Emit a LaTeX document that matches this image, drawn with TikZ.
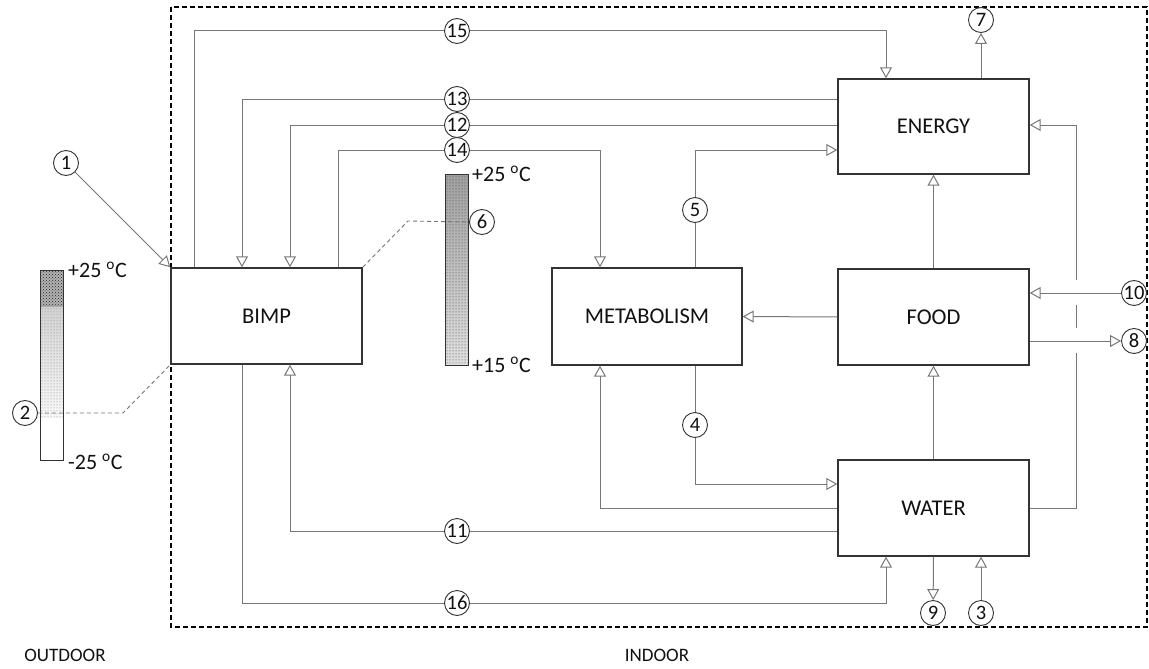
\documentclass[tikz,border=0pt]{standalone}
\usepackage{fontspec}
\setmainfont{Carlito}
\usetikzlibrary{arrows.meta,patterns}
\definecolor{lncol}{HTML}{777777}
\definecolor{boxcol}{HTML}{333333}
\definecolor{txtcol}{HTML}{111111}
\begin{document}
\begin{tikzpicture}[x=1pt,y=-1pt,
  blk/.style={draw=boxcol,line width=1.4pt,rectangle,inner sep=0pt,minimum width=191pt,minimum height=96pt,font=\fontsize{22.5}{26}\selectfont,text=txtcol},
  conn/.style={draw=lncol,line width=1pt},
  arr/.style={conn,-{Triangle[open,length=11pt,width=12pt,line width=1pt]}},
  num/.style={circle,draw=boxcol,line width=0.9pt,fill=white,minimum size=25pt,inner sep=0pt,font=\fontsize{20.5}{22}\selectfont,text=txtcol},
  tlab/.style={anchor=west,inner sep=0pt,font=\fontsize{22}{24}\selectfont,text=txtcol},
  dline/.style={draw=lncol,line width=0.9pt,dash pattern=on 4pt off 3pt}
]
\useasboundingbox (0,0) rectangle (1149,669);
% indoor boundary
\draw[line width=1.8pt,dash pattern=on 5pt off 3pt] (171,7) rectangle (1147,627);
% boxes
\node[blk] (bimp) at (266.5,316) {BIMP};
\node[blk,minimum width=190pt,minimum height=97pt] (meta) at (647,316.5) {METABOLISM};
\node[blk] (food) at (933.5,317) {FOOD};
\node[blk,minimum height=95pt] (energy) at (933.5,126.5) {ENERGY};
\node[blk] (water) at (933.5,508) {WATER};
% thermometers
\fill[gray!60] (40,270) rectangle (63,307);
\fill[pattern=crosshatch dots,pattern color=gray!30!black] (40,270) rectangle (63,307);
\shade[top color=gray!35,bottom color=gray!5] (40,307) rectangle (63,417);
\fill[pattern=dots,pattern color=gray] (40,307) rectangle (63,417);
\draw[boxcol,line width=1pt] (40,270) rectangle (63,460);
\shade[top color=gray!75,bottom color=gray!25] (445,174) rectangle (468,365);
\fill[pattern=dots,pattern color=gray!50!black] (445,174) rectangle (468,365);
\draw[boxcol,line width=1pt] (445,174) rectangle (468,365);
\node[tlab] (t1) at (68,270) {+25 \textsuperscript{o}C};
\node[tlab] (t2) at (68,462) {-25 \textsuperscript{o}C};
\node[tlab] (t3) at (472,174) {+25 \textsuperscript{o}C};
\node[tlab] (t4) at (472,365) {+15 \textsuperscript{o}C};
% end-point circles
\node[num] (c1) at (66,163) {1};
\node[num] (c2) at (25,413) {2};
\node[num] (c3) at (981,613) {3};
\node[num] (c6) at (482,222) {6};
\node[num] (c7) at (981,20) {7};
\node[num] (c8) at (1134,341) {8};
\node[num] (c9) at (933,613) {9};
\node[num] (c10) at (1134,293) {10};
% connectors
\draw[arr] (c1) -- (bimp.north west);
\draw[dline] (c2.east) -- (123,413) -- (bimp.south west);
\draw[dline] (bimp.north east) -- (408,221) -- (c6.west);
\draw[arr] (bimp.north -| 194,0) -- (194,31) -- (886,31) -- (energy.north -| 886,0);
\draw[arr] (energy.west |- 0,99) -- (242,99) -- (bimp.north -| 242,0);
\draw[arr] (energy.west |- 0,125) -- (290,125) -- (bimp.north -| 290,0);
\draw[arr] (bimp.north -| 338,0) -- (338,150) -- (600,150) -- (meta.north -| 600,0);
\draw[arr] (meta.north -| 695,0) -- (695,150) -- (energy.west |- 0,150);
\draw[arr] (energy.north -| 981,0) -- (c7);
\draw[arr] (food.north) -- (energy.south);
\draw[arr] (food.west) -- (meta.east);
\draw[arr] (water.north) -- (food.north |- food.south);
\draw[arr] (c10) -- (food.east |- 0,293);
\draw[arr] (food.east |- 0,341) -- (c8);
\draw[arr] (water.east) -- (1076,508) -- (1076,353) (1076,328) -- (1076,305) (1076,280) -- (1076,125) -- (energy.east |- 0,125);
\draw[arr] (meta.south -| 695,0) -- (695,484) -- (water.west |- 0,484);
\draw[arr] (water.west |- 0,508) -- (600,508) -- (meta.south -| 600,0);
\draw[arr] (water.west |- 0,531) -- (290,531) -- (bimp.south -| 290,0);
\draw[arr] (bimp.south -| 242,0) -- (242,603) -- (886,603) -- (water.south -| 886,0);
\draw[arr] (water.south) -- (c9);
\draw[arr] (c3) -- (water.south -| c3);
% on-line circles
\node[num] (c4) at (695,425) {4};
\node[num] (c5) at (695,210) {5};
\node[num] (c11) at (457,531) {11};
\node[num] (c12) at (457,125) {12};
\node[num] (c13) at (457,99) {13};
\node[num] (c14) at (457,150) {14};
\node[num] (c15) at (457,31) {15};
\node[num] (c16) at (457,603) {16};
% region labels
\node[font=\fontsize{19}{20}\selectfont,text=txtcol] (outd) at (65,655) {OUTDOOR};
\node[font=\fontsize{19}{20}\selectfont,text=txtcol] (ind) at (657,655) {INDOOR};
\end{tikzpicture}
\end{document}
